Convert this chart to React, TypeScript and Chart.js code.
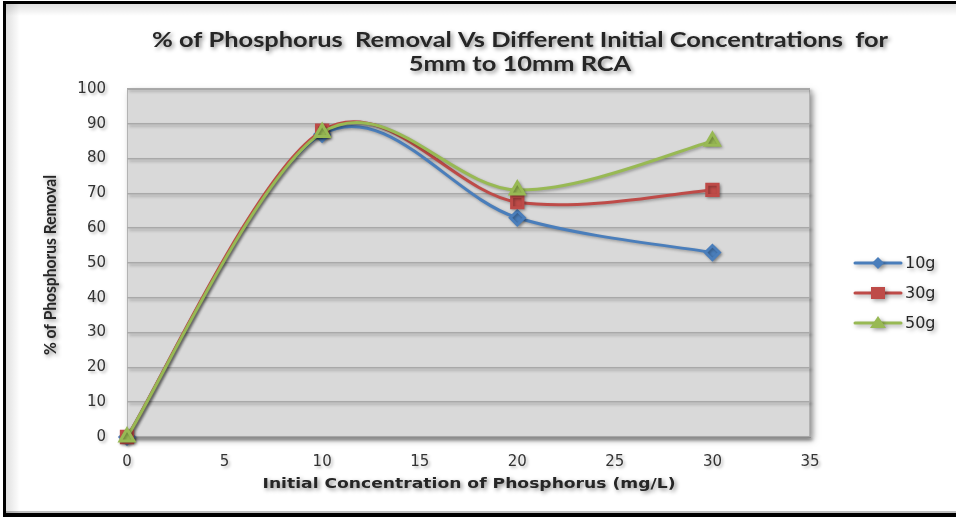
import React, { useEffect, useRef } from "react";
import { Chart, registerables } from "chart.js";

Chart.register(...registerables);

const xValues = [0, 10, 20, 30];
const series10g = [0, 87, 63, 53];
const series30g = [0, 88, 67.5, 71];
const series50g = [0, 87.5, 71, 85];
const seriesNames = ["10g", "30g", "50g"];
const titleLines = [
  "% of Phosphorus  Removal Vs Different Initial Concentrations  for",
  "5mm to 10mm RCA",
];
const xTitle = "Initial Concentration of Phosphorus (mg/L)";
const yTitle = "% of Phosphorus Removal";

const BLUE = "#4a7ebb";
const RED = "#be4b48";
const GREEN = "#98b954";

function fitText(ctx: CanvasRenderingContext2D, text: string, x: number, y: number, width: number) {
  const m = ctx.measureText(text).width;
  ctx.save();
  ctx.translate(x, y);
  ctx.scale(width / m, 1);
  ctx.fillText(text, 0, 0);
  ctx.restore();
}

function drawMarker(ctx: CanvasRenderingContext2D, style: string, x: number, y: number, color: string) {
  ctx.fillStyle = color;
  ctx.beginPath();
  if (style === "rectRot") {
    const r = 6;
    ctx.moveTo(x, y - r);
    ctx.lineTo(x + r, y);
    ctx.lineTo(x, y + r);
    ctx.lineTo(x - r, y);
  } else if (style === "rect") {
    ctx.rect(x - 7, y - 6, 14, 12);
  } else {
    ctx.moveTo(x, y - 7);
    ctx.lineTo(x + 8, y + 5);
    ctx.lineTo(x - 8, y + 5);
  }
  ctx.closePath();
  ctx.fill();
}

// Excel-like smoothing: Catmull-Rom control points in pixel space
const smoothPlugin = {
  id: "excelSmooth",
  beforeDatasetDraw(chart: any, args: any) {
    const meta = args.meta;
    const line = meta.dataset;
    if (!line) return;
    line.updateControlPoints(chart.chartArea, "x");
    const pts = meta.data;
    const n = pts.length;
    for (let i = 0; i < n; i++) {
      const p = pts[i];
      const prev = pts[Math.max(0, i - 1)];
      const next = pts[Math.min(n - 1, i + 1)];
      const dx = (next.x - prev.x) / 6;
      const dy = (next.y - prev.y) / 6;
      p.cp1x = p.x - dx;
      p.cp1y = p.y - dy;
      p.cp2x = p.x + dx;
      p.cp2y = p.y + dy;
    }
  },
};

const decorPlugin = {
  id: "decor",
  beforeDraw(chart: any) {
    const { ctx, chartArea } = chart;
    const { left, top, right, bottom } = chartArea;
    ctx.save();
    ctx.fillStyle = "#ffffff";
    ctx.fillRect(0, 0, chart.width, chart.height);
    // frame
    ctx.fillStyle = "#000";
    ctx.fillRect(3, 1, 953, 3);
    ctx.fillRect(3, 1, 3, 516);
    ctx.fillRect(3, 513, 953, 4);
    const g1 = ctx.createLinearGradient(6, 0, 20, 0);
    g1.addColorStop(0, "rgba(0,0,0,0.12)");
    g1.addColorStop(1, "rgba(0,0,0,0)");
    ctx.fillStyle = g1;
    ctx.fillRect(6, 4, 14, 509);
    const g2 = ctx.createLinearGradient(0, 4, 0, 16);
    g2.addColorStop(0, "rgba(0,0,0,0.12)");
    g2.addColorStop(1, "rgba(0,0,0,0)");
    ctx.fillStyle = g2;
    ctx.fillRect(6, 4, 950, 12);
    ctx.fillStyle = "rgba(0,0,0,0.25)";
    ctx.fillRect(6, 511, 950, 2);
    // plot area
    ctx.shadowColor = "rgba(0,0,0,0.45)";
    ctx.shadowBlur = 6;
    ctx.shadowOffsetX = 3;
    ctx.shadowOffsetY = 3;
    ctx.fillStyle = "#d9d9d9";
    ctx.fillRect(left, top, right - left, bottom - top);
    ctx.restore();
    ctx.save();
    ctx.strokeStyle = "#b3b3b3";
    ctx.lineWidth = 1;
    ctx.strokeRect(left + 0.5, top + 0.5, right - left - 1, bottom - top - 1);
    ctx.restore();
    // soft shadow for axes text and grid drawn next by the library
    ctx.shadowColor = "rgba(0,0,0,0.28)";
    ctx.shadowBlur = 3;
    ctx.shadowOffsetX = 2;
    ctx.shadowOffsetY = 2;
  },
  beforeDatasetsDraw(chart: any) {
    const ctx = chart.ctx;
    ctx.save();
    ctx.shadowColor = "rgba(0,0,0,0.3)";
    ctx.shadowBlur = 3;
    ctx.shadowOffsetX = 1.5;
    ctx.shadowOffsetY = 1.5;
  },
  afterDatasetsDraw(chart: any) {
    chart.ctx.restore();
  },
  afterDraw(chart: any) {
    const { ctx } = chart;
    ctx.save();
    ctx.shadowColor = "rgba(0,0,0,0.45)";
    ctx.shadowBlur = 4;
    ctx.shadowOffsetX = 2;
    ctx.shadowOffsetY = 2;
    ctx.fillStyle = "#262626";
    ctx.textAlign = "center";
    ctx.textBaseline = "middle";
    // title
    ctx.font = "bold 21px Lato";
    const m1 = ctx.measureText(titleLines[0]).width;
    const k = 736 / m1;
    ctx.save();
    ctx.translate(520, 40);
    ctx.scale(k, 1);
    ctx.fillText(titleLines[0], 0, 0);
    ctx.restore();
    ctx.save();
    ctx.translate(520, 64);
    ctx.scale(k, 1);
    ctx.fillText(titleLines[1], 0, 0);
    ctx.restore();
    // x title
    ctx.font = "bold 14px 'DejaVu Sans'";
    fitText(ctx, xTitle, 469, 484, 413);
    // y title
    ctx.save();
    ctx.translate(51, 265);
    ctx.rotate(-Math.PI / 2);
    ctx.font = "bold 17px Lato";
    fitText(ctx, yTitle, 0, 0, 180);
    ctx.restore();
    ctx.restore();

    // legend
    const colors = [BLUE, RED, GREEN];
    const styles = ["rectRot", "rect", "triangle"];
    const ys = [263, 293, 323];
    for (let i = 0; i < 3; i++) {
      ctx.save();
      ctx.shadowColor = "rgba(0,0,0,0.35)";
      ctx.shadowBlur = 4;
      ctx.shadowOffsetX = 2;
      ctx.shadowOffsetY = 2;
      ctx.strokeStyle = colors[i];
      ctx.lineWidth = 3;
      ctx.lineCap = "round";
      ctx.beginPath();
      ctx.moveTo(855, ys[i]);
      ctx.lineTo(901, ys[i]);
      ctx.stroke();
      drawMarker(ctx, styles[i], 878, ys[i], colors[i]);
      ctx.fillStyle = "#262626";
      ctx.font = "16px 'DejaVu Sans'";
      ctx.textAlign = "left";
      ctx.textBaseline = "middle";
      ctx.fillText(seriesNames[i], 905, ys[i] + 1);
      ctx.restore();
    }
  },
};

export default function App() {
  const ref = useRef<HTMLCanvasElement | null>(null);
  useEffect(() => {
    if (!ref.current) return;
    const mk = (vals: number[]) => xValues.map((x, i) => ({ x, y: vals[i] }));
    const chart = new Chart(ref.current, {
      type: "line",
      data: {
        datasets: [
          {
            label: seriesNames[0],
            data: mk(series10g),
            borderColor: BLUE,
            backgroundColor: BLUE,
            pointStyle: "rectRot",
            pointRadius: 7,
            borderWidth: 3,
            tension: 0.4,
            order: 2,
            clip: false,
          },
          {
            label: seriesNames[1],
            data: mk(series30g),
            borderColor: RED,
            backgroundColor: RED,
            pointStyle: "rect",
            pointRadius: 8,
            borderWidth: 3,
            tension: 0.4,
            order: 1,
            clip: false,
          },
          {
            label: seriesNames[2],
            data: mk(series50g),
            borderColor: GREEN,
            backgroundColor: GREEN,
            pointStyle: "triangle",
            pointRadius: 8,
            borderWidth: 3,
            tension: 0.4,
            order: 0,
            clip: false,
          },
        ],
      },
      options: {
        animation: false,
        responsive: false,
        devicePixelRatio: 1,
        layout: { padding: { left: 0, top: 89, right: 146, bottom: 0 } },
        plugins: { legend: { display: false }, tooltip: { enabled: false }, title: { display: false } },
        elements: { point: { borderWidth: 1 } },
        scales: {
          x: {
            type: "linear",
            min: 0,
            max: 35,
            ticks: { stepSize: 5, padding: 16, color: "#333333", font: { family: "'DejaVu Sans'", size: 15 } },
            grid: { display: false, drawTicks: false },
            border: { display: true, color: "#8c8c8c", width: 1 },
            afterFit: (s: any) => {
              s.height = 80;
            },
          },
          y: {
            min: 0,
            max: 100,
            ticks: { stepSize: 10, padding: 21, color: "#333333", font: { family: "'DejaVu Sans'", size: 15 } },
            grid: { color: "#a9a9a9", lineWidth: 1.5, drawTicks: false },
            border: { display: false },
            afterFit: (s: any) => {
              s.width = 127;
            },
          },
        },
      },
      plugins: [decorPlugin, smoothPlugin],
    } as any);
    return () => chart.destroy();
  }, []);
  return (
    <div style={{ position: "fixed", left: 0, top: 0, width: 956, height: 517, background: "#fff", overflow: "hidden" }}>
      <canvas ref={ref} width={956} height={517} style={{ display: "block", width: 956, height: 517 }} />
    </div>
  );
}
